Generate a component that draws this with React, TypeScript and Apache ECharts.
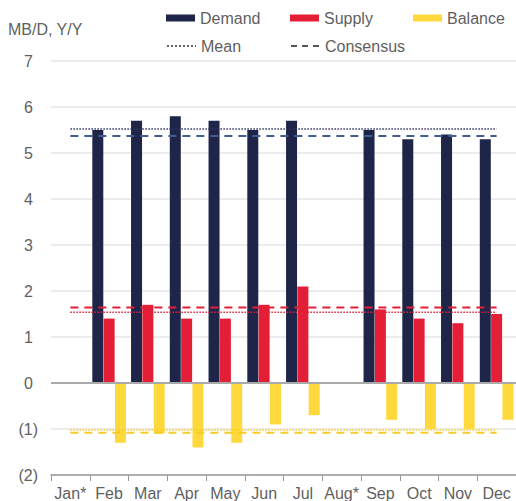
import React, { useEffect, useRef } from "react";
import * as echarts from "echarts";

const months = ["Jan*", "Feb", "Mar", "Apr", "May", "Jun", "Jul", "Aug*", "Sep", "Oct", "Nov", "Dec"];
const demand = [null, 5.5, 5.7, 5.8, 5.7, 5.5, 5.7, null, 5.5, 5.3, 5.4, 5.3];
const supply = [null, 1.4, 1.7, 1.4, 1.4, 1.7, 2.1, null, 1.6, 1.4, 1.3, 1.5];
const balance = [null, -1.3, -1.1, -1.4, -1.3, -0.9, -0.7, null, -0.8, -1.0, -1.0, -0.8];

const demandMean = 5.52;
const demandConsensus = 5.37;
const supplyMean = 1.54;
const supplyConsensus = 1.64;
const balanceMean = -1.02;
const balanceConsensus = -1.08;

const NAVY = "#1f2548";
const RED = "#e31e36";
const YELLOW = "#ffd93b";
const TEXT = "#5f5f5f";
const FONT = "Liberation Sans";

function refLine(name: string, value: number, color: string, type: any, width: number) {
  return {
    name,
    type: "line",
    data: [
      [months[0], value],
      [months[months.length - 1], value],
    ],
    symbol: "none",
    silent: true,
    lineStyle: { color, type, width },
    z: 5,
  };
}

export default function App() {
  const ref = useRef<HTMLDivElement>(null);
  useEffect(() => {
    const chart = echarts.init(ref.current!, undefined, { renderer: "svg" });
    const legendText = { color: TEXT, fontSize: 16, fontFamily: FONT };
    const mkLegend = (name: string, left: number, top: number, lineItem = false) => ({
      data: lineItem
        ? [{ name, itemStyle: { color: "rgba(0,0,0,0)", borderWidth: 0 } }]
        : [{ name, icon: "rect" }],
      left,
      top,
      padding: 0,
      itemWidth: 29,
      itemHeight: 7,
      itemGap: 0,
      textStyle: legendText,
      selectedMode: false,
    });
    chart.setOption({
      animation: false,
      textStyle: { fontFamily: FONT },
      title: {
        text: "MB/D, Y/Y",
        left: 8,
        top: 21,
        padding: 0,
        textStyle: { color: TEXT, fontSize: 16, fontWeight: "normal", fontFamily: FONT },
      },
      legend: [
        mkLegend("Demand", 166, 10),
        mkLegend("Supply", 290, 10),
        mkLegend("Balance", 413, 10),
        mkLegend("Mean", 166, 38, true),
        mkLegend("Consensus", 290, 38, true),
      ],
      grid: { left: 51, top: 61, width: 468, height: 414, containLabel: false },
      xAxis: {
        type: "category",
        data: months,
        axisLine: { onZero: false, lineStyle: { color: "#999", width: 1.5 } },
        axisTick: { show: true, length: 6, lineStyle: { color: "#999" } },
        axisLabel: { color: TEXT, fontSize: 16, fontFamily: FONT, margin: 10, interval: 0 },
      },
      yAxis: {
        type: "value",
        min: -2,
        max: 7,
        interval: 1,
        axisLine: { show: false },
        axisTick: { show: false },
        splitLine: { lineStyle: { color: "#e6e6e6", width: 1.5 } },
        axisLabel: {
          color: TEXT,
          fontSize: 16,
          fontFamily: FONT,
          margin: 13,
          formatter: (v: number) => (v < 0 ? `(${-v})` : `{p|${v}}`),
          rich: { p: { color: TEXT, fontSize: 16, fontFamily: FONT, padding: [0, 5, 0, 0] } },
        },
      },
      series: [
        {
          name: "Demand",
          type: "bar",
          data: demand,
          barWidth: 11,
          barGap: "3%",
          itemStyle: { color: NAVY },
          markLine: {
            silent: true,
            symbol: "none",
            label: { show: false },
            lineStyle: { color: "#aaa", type: "solid", width: 2 },
            data: [{ yAxis: 0 }],
          },
        },
        { name: "Supply", type: "bar", data: supply, barWidth: 11, barGap: "3%", itemStyle: { color: RED } },
        { name: "Balance", type: "bar", data: balance, barWidth: 11, barGap: "3%", itemStyle: { color: YELLOW } },
        { name: "Mean", type: "line", data: [], symbol: "none", itemStyle: { color: "#666" }, lineStyle: { color: "#666", type: "dotted", width: 1.5 } },
        { name: "Consensus", type: "line", data: [], symbol: "none", itemStyle: { color: "#555" }, lineStyle: { color: "#555", type: [6, 5], width: 2 } },
        refLine("Demand mean", demandMean, "#2e3560", "dotted", 1.5),
        refLine("Demand consensus", demandConsensus, "#3f5f92", [8, 6], 2),
        refLine("Supply mean", supplyMean, RED, "dotted", 1.5),
        refLine("Supply consensus", supplyConsensus, RED, [8, 6], 2),
        refLine("Balance mean", balanceMean, "#f5cc2a", "dotted", 1.5),
        refLine("Balance consensus", balanceConsensus, "#f5cc2a", [8, 6], 2),
      ],
    });
    return () => chart.dispose();
  }, []);
  return <div ref={ref} style={{ width: 516, height: 501, position: "absolute", left: 0, top: 0 }} />;
}
